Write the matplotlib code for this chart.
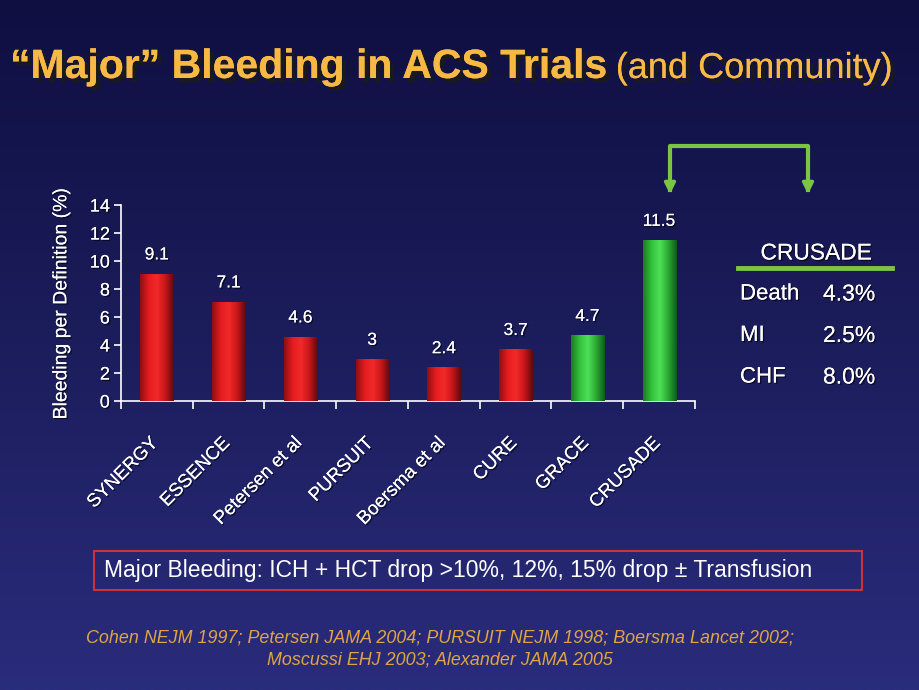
import numpy as np
import matplotlib
matplotlib.use("Agg")
import matplotlib.pyplot as plt
import matplotlib.patheffects as pe
from matplotlib.colors import LinearSegmentedColormap
from matplotlib.patches import Rectangle, FancyArrowPatch

plt.rcParams['font.family'] = ['Liberation Sans', 'DejaVu Sans']

# data
trials = ["SYNERGY", "ESSENCE", "Petersen et al", "PURSUIT", "Boersma et al",
          "CURE", "GRACE", "CRUSADE"]
bleeding = [9.1, 7.1, 4.6, 3.0, 2.4, 3.7, 4.7, 11.5]
value_labels = ["9.1", "7.1", "4.6", "3", "2.4", "3.7", "4.7", "11.5"]
community = [False, False, False, False, False, False, True, True]

crusade_rows = ["Death", "MI", "CHF"]
crusade_vals = ["4.3%", "2.5%", "8.0%"]

W, H = 920, 690
fig = plt.figure(figsize=(9.2, 6.9), dpi=100)

def fx(px):
    return px / W

def fy(py):
    return 1 - py / H

shadow = [pe.withSimplePatchShadow(offset=(1, -1), shadow_rgbFace="black", alpha=0.6),
          pe.Normal()]
shadow_big = [pe.withSimplePatchShadow(offset=(3, -3), shadow_rgbFace="#1a1a1a", alpha=0.9),
              pe.Normal()]

# background gradient
bg = fig.add_axes([0, 0, 1, 1], zorder=-10)
bg_cmap = LinearSegmentedColormap.from_list("bg", ["#0f0f42", "#1c1d5c", "#2a2c7c"])
bg.imshow(np.linspace(0, 1, 256).reshape(-1, 1), aspect="auto", cmap=bg_cmap,
          extent=(0, 1, 0, 1), origin="upper")
bg.axis("off")

# main chart
ax = fig.add_axes([fx(121), fy(401), fx(695 - 121), fy(205) - fy(401)])
ax.patch.set_alpha(0)
x = np.arange(len(trials))
colors = ["#35c43f" if c else "#e01d1f" for c in community]
bars = ax.bar(x, bleeding, width=0.46, color=colors, zorder=2)

red_cmap = LinearSegmentedColormap.from_list("r", ["#8c1012", "#e41c1f", "#f22a2a", "#c8161a", "#5e0a0c"])
green_cmap = LinearSegmentedColormap.from_list("g", ["#1d7a25", "#33c23c", "#4ee058", "#2aa833", "#145a1a"])
grad = np.linspace(0, 1, 64).reshape(1, -1)
for b, c in zip(bars, community):
    im = ax.imshow(grad, aspect="auto", cmap=green_cmap if c else red_cmap,
                   extent=(b.get_x(), b.get_x() + b.get_width(), 0, b.get_height()),
                   zorder=3)
    im.set_clip_path(b)

for xi, v, lab in zip(x, bleeding, value_labels):
    ax.text(xi, v + 0.8, lab, ha="center", va="bottom", color="white", fontsize=12.5,
            path_effects=shadow)

ax.set_xlim(-0.5, len(trials) - 0.5)
ax.set_ylim(0, 14)
ax.set_yticks(range(0, 15, 2))
ax.set_xticks(np.arange(-0.5, len(trials), 1.0))
ax.set_xticklabels([])
ax.tick_params(axis="x", length=6, width=1.2, color="white", direction="out")
ax.tick_params(axis="y", length=5, width=1.2, color="white", labelcolor="white",
               labelsize=13, pad=3)
for lbl in ax.get_yticklabels():
    lbl.set_path_effects(shadow)
for s in ["top", "right"]:
    ax.spines[s].set_visible(False)
for s in ["left", "bottom"]:
    ax.spines[s].set_color("white")
    ax.spines[s].set_linewidth(1.2)

for xi, name in zip(x, trials):
    ax.text(xi - 0.1, -2.4, name, rotation=45, ha="right", va="top", color="white",
            fontsize=13.5, rotation_mode="anchor", path_effects=shadow)

ax.set_ylabel("Bleeding per Definition (%)", color="white", fontsize=14, labelpad=14,
              path_effects=shadow)

# title
fig.text(fx(10), fy(78), "\u201cMajor\u201d Bleeding in ACS Trials", fontsize=29.5,
         fontweight="bold", color="#f7b944", ha="left", va="baseline",
         path_effects=shadow_big)
fig.text(fx(893), fy(78), "(and Community)", fontsize=26, color="#f7b944",
         ha="right", va="baseline", path_effects=shadow_big)

# bracket with arrows
green = "#7cc444"
fig.add_artist(plt.Line2D([fx(670), fx(670), fx(808), fx(808)],
                          [fy(190), fy(146), fy(146), fy(190)], color=green, lw=3,
                          solid_joinstyle="round"))
for px in (670, 808):
    fig.add_artist(FancyArrowPatch((fx(px), fy(178)), (fx(px), fy(197)),
                                   transform=fig.transFigure, arrowstyle="-|>",
                                   mutation_scale=16, color=green, lw=2.5))

# CRUSADE table
fig.text(fx(816), fy(253), "CRUSADE", fontsize=16.4, color="white", ha="center",
         va="center", path_effects=shadow)
fig.add_artist(plt.Line2D([fx(738), fx(892)], [fy(268), fy(268)], color=green, lw=3.5))
for i, (r, v) in enumerate(zip(crusade_rows, crusade_vals)):
    yy = 294 + i * 41.5
    fig.text(fx(740), fy(yy), r, fontsize=16, color="white", ha="left", va="center",
             path_effects=shadow)
    fig.text(fx(823), fy(yy), v, fontsize=16.5, color="white", ha="left", va="center",
             path_effects=shadow)

# definition box
fig.add_artist(Rectangle((fx(94), fy(590)), fx(862 - 94), fy(551) - fy(590),
                         transform=fig.transFigure, fill=False, edgecolor="#c8343a", lw=1.5))
fig.text(fx(104), fy(571), "Major Bleeding: ICH + HCT drop >10%, 12%, 15% drop \u00b1 Transfusion",
         fontsize=16.5, color="white", ha="left", va="center")

# references
ref_color = "#e0a444"
fig.text(fx(440), fy(638), "Cohen NEJM 1997; Petersen JAMA 2004; PURSUIT NEJM 1998; Boersma Lancet 2002;",
         fontsize=12.9, style="italic", color=ref_color, ha="center", va="center")
fig.text(fx(440), fy(660), "Moscussi EHJ 2003; Alexander JAMA 2005",
         fontsize=12.9, style="italic", color=ref_color, ha="center", va="center")

fig.savefig("out.png", dpi=100)
